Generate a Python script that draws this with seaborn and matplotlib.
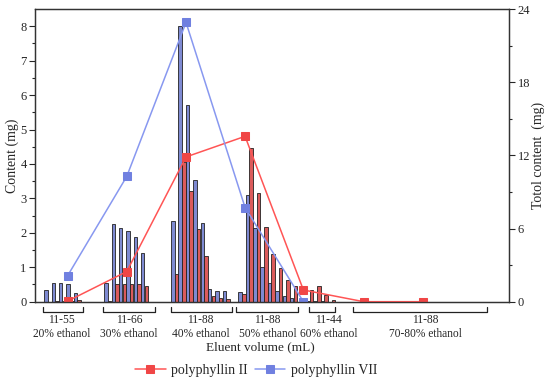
import numpy as np
import matplotlib
matplotlib.use('Agg')
import matplotlib.pyplot as plt
import matplotlib.transforms as mtransforms
import pandas as pd
import seaborn as sns

# fraction data (content per tube, mg) - one list per eluent step
group_start = [1.5, 9.65, 18.75, 27.9, 37.1]
vii_bars = [
    [0.35, 0.55, 0.53, 0.50, 0.25],
    [0.55, 2.27, 2.15, 2.05, 1.88, 1.40],
    [2.35, 8.02, 5.70, 3.52, 2.28, 0.37, 0.30, 0.30],
    [0.29, 3.11, 2.14, 1.00, 0.54, 0.32, 0.17, 0.10],
    [0.02, 0.02, 0.01, 0.00],
]
ii_bars = [
    [0.00, 0.02, 0.02, 0.03, 0.04],
    [0.03, 0.50, 0.52, 0.50, 0.50, 0.45],
    [0.80, 4.05, 3.22, 2.10, 1.32, 0.17, 0.10, 0.08],
    [0.22, 4.47, 3.16, 2.17, 1.39, 0.99, 0.63, 0.47],
    [0.35, 0.45, 0.18, 0.05],
]

# total content per step (right axis)
total_x = [4.45, 12.48, 20.54, 28.57, 36.5, 44.7, 52.7]
total_ii = [0.05, 2.47, 11.87, 13.56, 0.96, 0.0, 0.0]
total_vii = [2.14, 10.27, 22.9, 7.72, 0.0]

# brackets under the axis
bracket_span = [(1.05, 6.57), (9.2, 16.3), (18.5, 26.8), (27.4, 35.8), (37.3, 40.8), (43.3, 61.5)]
bracket_label_x = [3.6, 12.8, 22.5, 31.6, 39.9, 53.1]
volume_labels = ['11-55', '11-66', '11-88', '11-88', '11-44', '11-88']
ethanol_labels = ['20% ethanol', '30% ethanol', '40% ethanol', '50% ethanol', '60% ethanol', '70-80% ethanol']

red_bar = '#F04646'
blue_bar = '#7080E0'
red_line = '#FF5555'
blue_line = '#8898F0'

# tidy table for the bars
rows = []
for g, start in enumerate(group_start):
    for i, (b, r) in enumerate(zip(vii_bars[g], ii_bars[g])):
        rows.append({'pos': round(start + i, 3), 'series': 'VII', 'value': b})
        rows.append({'pos': round(start + i + 0.5, 3), 'series': 'II', 'value': r})
bars = pd.DataFrame(rows)

sns.set_style('ticks')
plt.rcParams['font.family'] = ['Liberation Serif', 'DejaVu Serif']
plt.rcParams['font.size'] = 8.5

fig = plt.figure(figsize=(5.5, 3.83), dpi=100)
ax = fig.add_axes([0.0636, 0.2123, 0.8624, 0.7642])

for name, col in [('VII', blue_bar), ('II', red_bar)]:
    sub = bars[bars['series'] == name]
    sns.barplot(data=sub, x='pos', y='value', native_scale=True, width=0.48,
                color=col, edgecolor='#222222', linewidth=0.6, errorbar=None, ax=ax)

ax.set_xlim(0, 64.5)
ax.set_ylim(0, 8.5)
ax.set_yticks(range(0, 9))
ax.set_yticks(np.arange(0.5, 8.5, 1), minor=True)
ax.set_xticks([])
ax.set_ylabel('Content (mg)', fontsize=10, labelpad=1)
ax.set_xlabel('Eluent volume (mL)', fontsize=9.5)
ax.xaxis.set_label_coords(0.475, -0.135)
ax.tick_params(axis='y', which='major', direction='out', length=4, width=0.8, labelsize=9, pad=2)
ax.tick_params(axis='y', which='minor', direction='out', length=2, width=0.8)
for s in ax.spines.values():
    s.set_color('#333333')
    s.set_linewidth(0.9)

ax2 = ax.twinx()
sns.lineplot(x=total_x, y=total_ii, ax=ax2, color=red_line, marker='s', markersize=5.5,
             markerfacecolor=red_bar, markeredgecolor=red_bar, linewidth=1.1, label='polyphyllin II')
sns.lineplot(x=total_x[:len(total_vii)], y=total_vii, ax=ax2, color=blue_line, marker='s', markersize=5.5,
             markerfacecolor=blue_bar, markeredgecolor=blue_bar, linewidth=1.1, label='polyphyllin VII')
ax2.set_ylim(0, 24)
ax2.set_yticks([0, 6, 12, 18, 24])
ax2.set_yticks([3, 9, 15, 21], minor=True)
ax2.set_ylabel('Totol content  (mg)', fontsize=10, labelpad=1)
ax2.tick_params(axis='y', which='major', direction='out', length=4, width=0.8, labelsize=9, pad=2)
ax2.tick_params(axis='y', which='minor', direction='out', length=2, width=0.8)
for s in ax2.spines.values():
    s.set_color('#333333')
    s.set_linewidth(0.9)
handles, labels = ax2.get_legend_handles_labels()
ax2.get_legend().remove()

# brackets and group labels below the axis
trans = mtransforms.blended_transform_factory(ax.transData, ax.transAxes)
for (x0, x1), lx, v, e in zip(bracket_span, bracket_label_x, volume_labels, ethanol_labels):
    ax.plot([x0, x0, x1, x1], [-0.018, -0.034, -0.034, -0.018], color='#222222',
            linewidth=0.9, transform=trans, clip_on=False)
    ax.text(lx, -0.063, v, transform=trans, ha='center', va='center', fontsize=8.3)
    ax.text(lx, -0.111, e, transform=trans, ha='center', va='center', fontsize=8.3)

fig.legend(handles, labels, loc='center', bbox_to_anchor=(0.466, 0.032), ncol=2,
           frameon=False, fontsize=10, handlelength=2.2, columnspacing=0.5, handletextpad=0.4)

fig.savefig('out.png', dpi=100)
